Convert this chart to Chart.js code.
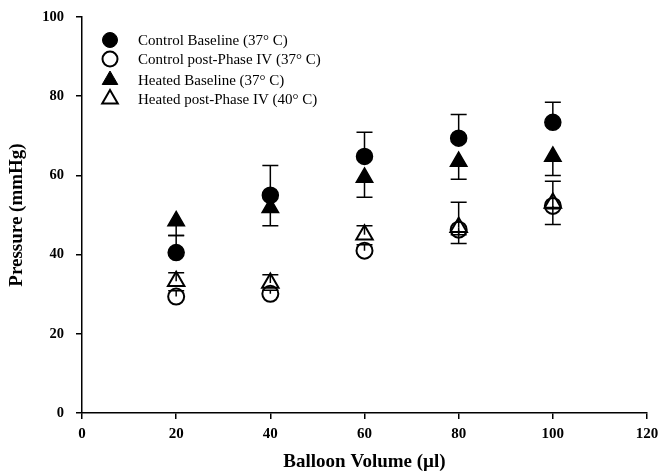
<!DOCTYPE html>
<html>
<head>
<meta charset="utf-8">
<script src="https://cdn.jsdelivr.net/npm/chart.js@4/dist/chart.umd.min.js"></script>
<style>
  html, body { margin: 0; padding: 0; background: #fff; }
  #wrap { width: 659px; height: 474px; position: relative; }
</style>
</head>
<body>
<div id="wrap"><canvas id="c" width="659" height="474"></canvas></div>
<script>
// ---- data ----
const volumes = [20, 40, 60, 80, 100];
const xTicks = [0, 20, 40, 60, 80, 100, 120];
const yTicks = [0, 20, 40, 60, 80, 100];

const controlBaseline = [40.5, 55.0, 64.8, 69.4, 73.4];
const controlBaselineErrUp = [4.3, 7.5, 6.1, 6.0, 5.1];
const controlBaselineErrDown = [0, 0, 0, 0, 0];

const controlPost = [29.4, 30.1, 41.0, 46.3, 52.3];
const controlPostErrUp = [1.5, 0.9, 1.5, 0, 0];
const controlPostErrDown = [0, 0, 0, 3.5, 4.7];

const heatedBaseline = [48.5, 51.8, 59.5, 63.5, 64.8];
const heatedBaselineErrUp = [0, 0, 0, 0, 0];
const heatedBaselineErrDown = [3.7, 4.5, 5.0, 4.5, 4.8];

const heatedPost = [33.3, 32.8, 45.0, 46.9, 53.0];
const heatedPostErrUp = [2.1, 2.1, 2.3, 6.3, 5.5];
const heatedPostErrDown = [0, 0, 0, 1.9, 1.4];

const labels = [
  'Control Baseline (37° C)',
  'Control post-Phase IV (37° C)',
  'Heated Baseline (37° C)',
  'Heated post-Phase IV (40° C)'
];

function pts(ys) { return volumes.map((x, i) => ({ x: x, y: ys[i] })); }

const SERIF = '"Liberation Serif", "Times New Roman", serif';

const datasets = [
  { label: labels[0], data: pts(controlBaseline), errUp: controlBaselineErrUp, errDown: controlBaselineErrDown,
    pointStyle: 'circle', pointRadius: 8, backgroundColor: '#000', borderColor: '#000', borderWidth: 1.5, filled: true },
  { label: labels[1], data: pts(controlPost), errUp: controlPostErrUp, errDown: controlPostErrDown,
    pointStyle: 'circle', pointRadius: 8, backgroundColor: 'rgba(0,0,0,0)', borderColor: '#000', borderWidth: 2, filled: false },
  { label: labels[2], data: pts(heatedBaseline), errUp: heatedBaselineErrUp, errDown: heatedBaselineErrDown,
    pointStyle: 'triangle', pointRadius: 9.5, backgroundColor: '#000', borderColor: '#000', borderWidth: 1.5, filled: true },
  { label: labels[3], data: pts(heatedPost), errUp: heatedPostErrUp, errDown: heatedPostErrDown,
    pointStyle: 'triangle', pointRadius: 9.5, backgroundColor: 'rgba(0,0,0,0)', borderColor: '#000', borderWidth: 2, filled: false }
];
datasets.forEach(d => { d.showLine = false; d.pointHoverRadius = d.pointRadius; });

const errorBars = {
  id: 'errorBars',
  beforeDatasetsDraw(chart) {
    const ctx = chart.ctx, xs = chart.scales.x, ys = chart.scales.y;
    ctx.save();
    ctx.strokeStyle = '#000';
    ctx.lineWidth = 1.5;
    const cap = 8;
    chart.data.datasets.forEach(ds => {
      ds.data.forEach((p, i) => {
        const px = xs.getPixelForValue(p.x);
        const py = ys.getPixelForValue(p.y);
        [[ds.errUp[i], 1], [ds.errDown[i], -1]].forEach(([e, s]) => {
          if (!e) return;
          const ey = ys.getPixelForValue(p.y + s * e);
          ctx.beginPath();
          ctx.moveTo(px, py); ctx.lineTo(px, ey);
          ctx.moveTo(px - cap, ey); ctx.lineTo(px + cap, ey);
          ctx.stroke();
        });
      });
    });
    ctx.restore();
  }
};

const customLegend = {
  id: 'customLegend',
  afterDraw(chart) {
    const ctx = chart.ctx;
    const mx = 110, tx = 138;
    const rows = [40, 59, 80, 99];
    ctx.save();
    ctx.font = '15px ' + SERIF;
    ctx.textBaseline = 'middle';
    ctx.fillStyle = '#000';
    chart.data.datasets.forEach((ds, i) => {
      const y = rows[i];
      ctx.beginPath();
      ctx.lineWidth = ds.filled ? 1 : 2;
      ctx.strokeStyle = '#000';
      if (ds.pointStyle === 'circle') {
        ctx.arc(mx, y, 7.5, 0, Math.PI * 2);
      } else {
        const r = 9;
        ctx.moveTo(mx, y - r);
        ctx.lineTo(mx + r * Math.sin(2 * Math.PI / 3), y + r * 0.5);
        ctx.lineTo(mx - r * Math.sin(2 * Math.PI / 3), y + r * 0.5);
        ctx.closePath();
      }
      if (ds.filled) { ctx.fillStyle = '#000'; ctx.fill(); }
      ctx.stroke();
      ctx.fillStyle = '#000';
      ctx.fillText(ds.label, tx, y + 1);
    });
    ctx.restore();
  }
};

new Chart(document.getElementById('c'), {
  type: 'scatter',
  data: { datasets: datasets },
  options: {
    responsive: false,
    animation: false,
    events: [],
    layout: { padding: { top: 17, right: 12, left: 0, bottom: 0 } },
    plugins: { legend: { display: false }, tooltip: { enabled: false } },
    scales: {
      x: {
        type: 'linear', min: 0, max: 120,
        afterBuildTicks(s) { s.ticks = xTicks.map(v => ({ value: v })); },
        afterFit(s) { s.height = 61; s.paddingRight = 0; s.paddingLeft = 0; },
        grid: { display: true, drawOnChartArea: false, drawTicks: true, tickLength: 6, color: '#000', lineWidth: 1.5 },
        border: { display: true, color: '#000', width: 1.5 },
        ticks: { color: '#000', padding: 6, maxRotation: 0, font: { family: SERIF, size: 15, weight: 'bold' } },
        title: { display: true, text: 'Balloon Volume (µl)', color: '#000', padding: { top: 0, bottom: 1 },
          font: { family: SERIF, size: 19, weight: 'bold' } }
      },
      y: {
        type: 'linear', min: 0, max: 100,
        afterBuildTicks(s) { s.ticks = yTicks.map(v => ({ value: v })); },
        afterFit(s) { s.width = 82; s.paddingTop = 0; s.paddingBottom = 0; },
        grid: { display: true, drawOnChartArea: false, drawTicks: true, tickLength: 6, color: '#000', lineWidth: 1.5 },
        border: { display: true, color: '#000', width: 1.5 },
        ticks: { color: '#000', padding: 12, font: { family: SERIF, size: 14.5, weight: 'bold' } },
        title: { display: true, text: 'Pressure (mmHg)', color: '#000', padding: { top: 6, bottom: 0 },
          font: { family: SERIF, size: 19, weight: 'bold' } }
      }
    }
  },
  plugins: [errorBars, customLegend]
});
</script>
</body>
</html>
